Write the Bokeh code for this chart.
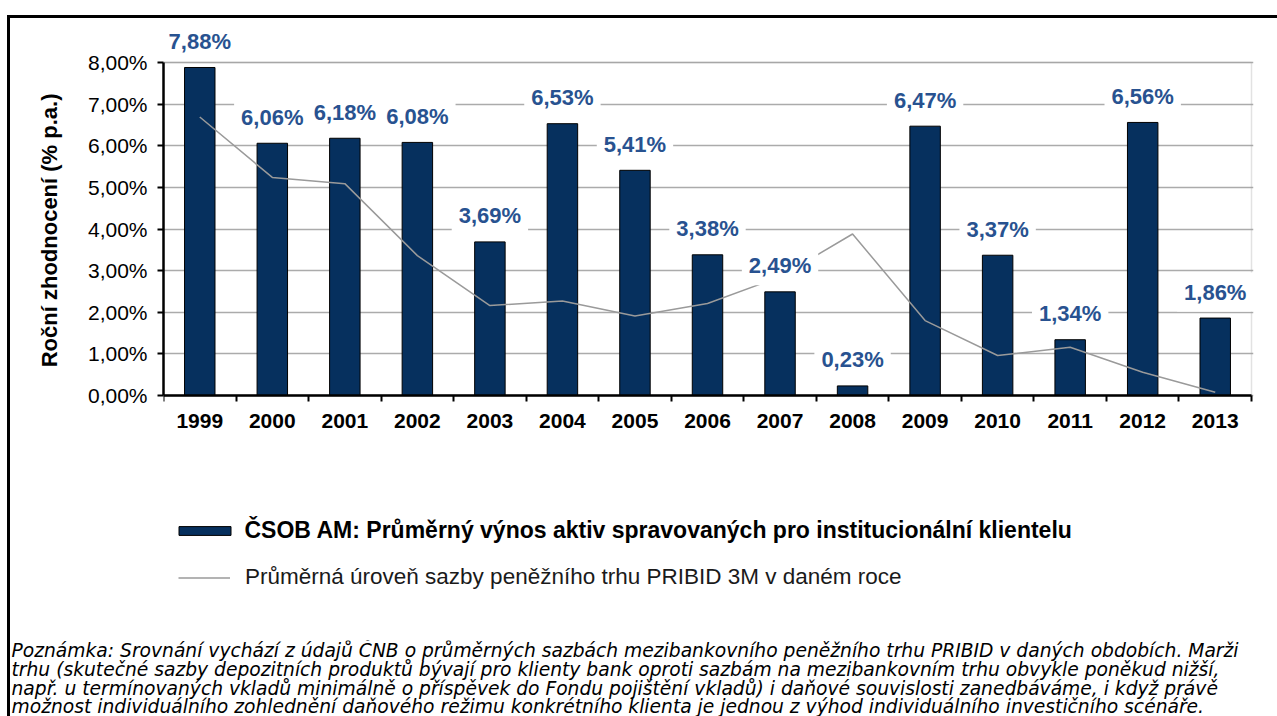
from bokeh.plotting import figure
from bokeh.models import (Range1d, FixedTicker, Label, Legend, LegendItem,
                          BoxAnnotation, ColumnDataSource, Spacer, Title)
from bokeh.layouts import column, row
from bokeh.embed import file_html
from bokeh.resources import INLINE

# ---------------- data ----------------
years = ["1999", "2000", "2001", "2002", "2003", "2004", "2005", "2006",
         "2007", "2008", "2009", "2010", "2011", "2012", "2013"]
csob_returns = [7.88, 6.06, 6.18, 6.08, 3.69, 6.53, 5.41, 3.38,
                2.49, 0.23, 6.47, 3.37, 1.34, 6.56, 1.86]
pribid_rates = [6.69, 5.24, 5.09, 3.36, 2.16, 2.27, 1.91, 2.21,
                2.85, 3.88, 1.80, 0.96, 1.16, 0.56, 0.08]
y_ticks = [0, 1, 2, 3, 4, 5, 6, 7, 8]
y_tick_labels = ["0,00%", "1,00%", "2,00%", "3,00%", "4,00%",
                 "5,00%", "6,00%", "7,00%", "8,00%"]
y_axis_title = "Roční zhodnocení (% p.a.)"
legend_bar = "ČSOB AM: Průměrný výnos aktiv spravovaných pro institucionální klientelu"
legend_line = "Průměrná úroveň sazby peněžního trhu PRIBID 3M v daném roce"
note_lines = [
    "Poznámka: Srovnání vychází z údajů ČNB o průměrných sazbách mezibankovního peněžního trhu PRIBID v daných obdobích. Marži",
    "trhu (skutečné sazby depozitních produktů bývají pro klienty bank oproti sazbám na mezibankovním trhu obvykle poněkud nižší,",
    "např. u termínovaných vkladů minimálně o příspěvek do Fondu pojištění vkladů) i daňové souvislosti zanedbáváme, i když právě",
    "možnost individuálního zohlednění daňového režimu konkrétního klienta je jednou z výhod individuálního investičního scénáře.",
]

FONT = "Liberation Sans"
BAR_COLOR = "#06305E"
LABEL_COLOR = "#285290"
GRID_COLOR = "#ababab"
LINE_COLOR = "#9a9a9a"

positions = list(range(len(years)))
bar_labels = [f"{v:.2f}".replace(".", ",") + "%" for v in csob_returns]
src = ColumnDataSource(dict(x=positions, csob=csob_returns, pribid=pribid_rates))

x_lo, x_hi = -0.5, len(years) - 0.5
y_lo, y_hi = y_ticks[0], y_ticks[-1]

# ---------------- chart figure (frame also holds the legend) ----------------
W = 1267
PX_PER_UNIT = 333 / 8          # vertical pixels per 1 %
FRAME_TOP, ZERO_Y, FRAME_BOTTOM = 2, 377, 577   # pixel rows inside the figure
H1 = 622
p = figure(width=W, height=H1,
           x_range=Range1d(x_lo, x_lo + (x_hi - x_lo) * 1090 / 1088),
           y_range=Range1d(-(FRAME_BOTTOM - ZERO_Y) / PX_PER_UNIT,
                           (ZERO_Y - FRAME_TOP) / PX_PER_UNIT),
           output_backend="svg", toolbar_location=None,
           min_border_left=153, min_border_right=24,
           min_border_top=FRAME_TOP, min_border_bottom=H1 - FRAME_BOTTOM)
p.frame_align = False
p.background_fill_color = "white"
p.border_fill_color = "white"
p.outline_line_color = None

p.xgrid.visible = False
p.ygrid.grid_line_color = GRID_COLOR
p.ygrid.grid_line_width = 1.3

# plot-area border (top/right visible; left/bottom under axes)
p.add_layout(BoxAnnotation(left=x_lo, right=x_hi, bottom=y_lo, top=y_hi,
                           fill_alpha=0, line_color="#a0a0a0", line_width=1.5,
                           level="underlay"))

bars = p.vbar(x="x", top="csob", width=0.42, source=src,
              fill_color=BAR_COLOR, line_color="black", line_width=1)
line = p.line(x="x", y="pribid", source=src, line_color=LINE_COLOR, line_width=1.5)

# x axis, drawn at the 0 % level
xa = p.xaxis[0]
xa.fixed_location = 0
xa.bounds = (x_lo, x_hi)
xa.ticker = FixedTicker(ticks=positions,
                        minor_ticks=[i - 0.5 for i in range(len(years) + 1)])
xa.major_label_overrides = {i: y for i, y in zip(positions, years)}
xa.major_tick_out = 0
xa.major_tick_in = 0
xa.minor_tick_out = 6
xa.minor_tick_in = 0
xa.minor_tick_line_color = "black"
xa.minor_tick_line_width = 2
xa.axis_line_color = "black"
xa.axis_line_width = 2.5
xa.major_label_text_font = FONT
xa.major_label_text_font_style = "bold"
xa.major_label_text_font_size = "21px"
xa.major_label_text_color = "black"
xa.major_label_standoff = 12

# y axis
ya = p.yaxis[0]
ya.bounds = (y_lo, y_hi)
ya.ticker = FixedTicker(ticks=y_ticks)
ya.major_label_overrides = dict(zip(y_ticks, y_tick_labels))
ya.major_tick_out = 6
ya.major_tick_in = 0
ya.major_tick_line_width = 2
ya.major_tick_line_color = "black"
ya.minor_tick_out = 0
ya.minor_tick_in = 0
ya.axis_line_color = "black"
ya.axis_line_width = 2.5
ya.major_label_text_font = FONT
ya.major_label_text_font_size = "21px"
ya.major_label_text_color = "black"
ya.major_label_standoff = 10

# y axis title beside the 0-8 % span (the frame continues below it)
p.add_layout(Title(text=y_axis_title, align="right", offset=73,
                   text_font=FONT, text_font_style="bold", text_font_size="22px",
                   text_color="black", standoff=46), "left")

# data labels
for xi, v, lab in zip(positions, csob_returns, bar_labels):
    p.add_layout(Label(x=xi, y=v, text=lab, y_offset=26,
                       text_align="center", text_baseline="middle",
                       text_font=FONT, text_font_style="bold",
                       text_font_size="22px", text_color=LABEL_COLOR,
                       background_fill_color="white", padding=7))

# legends (below the axis, inside the frame)
leg_bar = Legend(items=[LegendItem(label=legend_bar, renderers=[bars])],
                 location=(8.5, 51), orientation="vertical",
                 glyph_width=65, glyph_height=11, label_standoff=8,
                 label_height=26, padding=0, margin=0,
                 border_line_alpha=0, background_fill_alpha=0,
                 label_text_font=FONT, label_text_font_style="bold",
                 label_text_font_size="23px", label_text_color="black")
leg_line = Legend(items=[LegendItem(label=legend_line, renderers=[line])],
                  location=(15, 5), orientation="vertical",
                  glyph_width=52, glyph_height=11, label_standoff=15,
                  label_height=26, padding=0, margin=0,
                  border_line_alpha=0, background_fill_alpha=0,
                  label_text_font=FONT, label_text_font_style="normal",
                  label_text_font_size="22.5px", label_text_color="#1a1a1a")
p.add_layout(leg_bar)
p.add_layout(leg_line)

# ---------------- note figure ----------------
H2 = 76
q = figure(width=W, height=H2, x_range=Range1d(0, 1), y_range=Range1d(0, 1),
           output_backend="svg", toolbar_location=None,
           x_axis_location=None, y_axis_location=None,
           min_border=0, min_border_left=0, min_border_right=0,
           min_border_top=0, min_border_bottom=0)
q.frame_align = False
q.grid.visible = False
q.outline_line_color = None
q.background_fill_color = "white"
q.border_fill_color = "white"

for i, txt in enumerate(note_lines):
    q.add_layout(Label(x=1, y=66 - 18.83 * i, x_units="screen", y_units="screen",
                       text=txt, text_align="left", text_baseline="middle",
                       text_font="DejaVu Sans", text_font_style="italic",
                       text_font_size="18.7px", text_color="black"))

inner = column(p, q, styles={"border-top": "3px solid black",
                             "border-left": "3px solid black"})
layout = column(Spacer(width=10, height=15), row(Spacer(width=7, height=10), inner))

open("out.html", "w").write(file_html(layout, INLINE))
